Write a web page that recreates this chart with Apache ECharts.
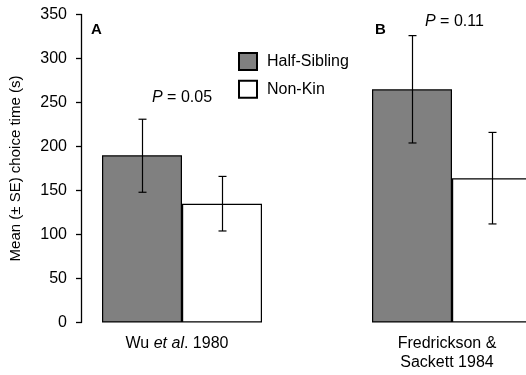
<!DOCTYPE html>
<html>
<head>
<meta charset="utf-8">
<script src="https://cdn.jsdelivr.net/npm/echarts@6/dist/echarts.min.js"></script>
<style>html,body{margin:0;padding:0;background:#fff}#c{width:526px;height:375px}</style>
</head>
<body>
<div id="c"></div>
<script>
var categories = ['Wu et al. 1980', 'Fredrickson & Sackett 1984'];
var panelLetters = ['A', 'B'];
var pValues = ['0.05', '0.11'];
var halfSib = [190, 265];
var halfSibLow = [148, 204];
var halfSibHigh = [231, 326];
var nonKin = [135, 164];
var nonKinLow = [104, 112];
var nonKinHigh = [166, 216];
var yTicks = [0, 50, 100, 150, 200, 250, 300, 350];

var BAR_W = 80;
var FONT = 'Liberation Sans, Arial, sans-serif';

var errData = [];
for (var i = 0; i < categories.length; i++) {
  errData.push([i, halfSibLow[i], halfSibHigh[i], -1]);
  errData.push([i, nonKinLow[i], nonKinHigh[i], 1]);
}

function fmtCat(v) {
  if (v.indexOf('et al.') >= 0) {
    var parts = v.split('et al');
    return '{n|' + parts[0] + '}{i|et al}{n|' + parts[1] + '}';
  }
  var idx = v.indexOf('& ');
  return '{n|' + v.slice(0, idx + 1) + '}\n{n|' + v.slice(idx + 2) + '}';
}

var pRich = {
  i: {fontStyle: 'italic', fontWeight: 'normal', fontSize: 16, color: '#000', fontFamily: FONT},
  n: {fontWeight: 'normal', fontSize: 16, color: '#000', fontFamily: FONT}
};

var chart = echarts.init(document.getElementById('c'), null, {renderer: 'canvas'});
chart.setOption({
  animation: false,
  textStyle: {fontFamily: FONT},
  grid: {left: 47, right: -61, top: 14.5, bottom: 52.5, containLabel: false, outerBoundsMode: 'none'},
  legend: {
    orient: 'vertical', left: 238, top: 52, padding: 0, itemWidth: 18, itemHeight: 17, itemGap: 8.7,
    icon: 'rect',
    textStyle: {fontSize: 16, color: '#000', fontFamily: FONT, padding: [0, 0, 0, 5]},
    data: ['Half-Sibling', 'Non-Kin']
  },
  title: [
    {text: panelLetters[0], left: 91, top: 22, padding: 0, textStyle: {fontSize: 15, fontWeight: 'bold', color: '#000', fontFamily: FONT}},
    {text: panelLetters[1], left: 375, top: 22, padding: 0, textStyle: {fontSize: 15, fontWeight: 'bold', color: '#000', fontFamily: FONT}},
    {text: '{i|P}{n| = ' + pValues[0] + '}', left: 152, top: 90, padding: 0,
     textStyle: {fontWeight: 'normal', rich: pRich}},
    {text: '{i|P}{n| = ' + pValues[1] + '}', left: 425, top: 14, padding: 0,
     textStyle: {fontWeight: 'normal', rich: pRich}}
  ],
  xAxis: {
    type: 'category',
    data: categories,
    axisLine: {show: false},
    axisTick: {show: false},
    axisLabel: {
      margin: 12,
      formatter: fmtCat,
      padding: [0, 10, 0, 0],
      rich: {
        n: {fontSize: 16, color: '#000', fontFamily: FONT, lineHeight: 19},
        i: {fontSize: 16, color: '#000', fontFamily: FONT, fontStyle: 'italic', lineHeight: 19}
      }
    }
  },
  yAxis: {
    type: 'value',
    min: yTicks[0], max: yTicks[yTicks.length - 1], interval: 50,
    offset: -34,
    name: 'Mean (\u00b1 SE) choice time (s)',
    nameLocation: 'middle', nameGap: 58,
    nameTextStyle: {fontSize: 15, color: '#000', fontFamily: FONT},
    axisLine: {show: true, lineStyle: {color: '#000', width: 1.3}},
    axisTick: {show: true, length: 5, lineStyle: {color: '#000', width: 1.3}},
    axisLabel: {margin: 14, fontSize: 16, color: '#000', fontFamily: FONT},
    splitLine: {show: false}
  },
  series: [
    {name: 'Half-Sibling', type: 'bar', data: halfSib, barWidth: BAR_W, barGap: '0%',
     itemStyle: {color: '#808080', borderColor: '#000', borderWidth: 1.2}},
    {name: 'Non-Kin', type: 'bar', data: nonKin, barWidth: BAR_W, barGap: '0%',
     itemStyle: {color: '#fff', borderColor: '#000', borderWidth: 1.2}},
    {name: 'err', type: 'custom', data: errData, z: 10,
     encode: {x: 0, y: [1, 2]},
     renderItem: function (params, api) {
       var ci = api.value(0);
       var off = api.value(3) * BAR_W / 2;
       var pHi = api.coord([ci, api.value(2)]);
       var pLo = api.coord([ci, api.value(1)]);
       var x = Math.round(pHi[0] + off) + 0.5;
       var cap = 4;
       var st = {stroke: '#000', lineWidth: 1.2, fill: null};
       return {type: 'group', children: [
         {type: 'line', shape: {x1: x, y1: pHi[1], x2: x, y2: pLo[1]}, style: st},
         {type: 'line', shape: {x1: x - cap, y1: pHi[1], x2: x + cap, y2: pHi[1]}, style: st},
         {type: 'line', shape: {x1: x - cap, y1: pLo[1], x2: x + cap, y2: pLo[1]}, style: st}
       ]};
     }}
  ]
});
</script>
</body>
</html>
